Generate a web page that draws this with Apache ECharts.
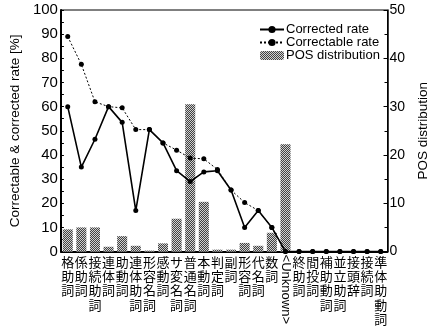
<!DOCTYPE html>
<html><head><meta charset="utf-8">
<script src="https://cdn.jsdelivr.net/npm/echarts@6/dist/echarts.min.js"></script>
<style>html,body{margin:0;padding:0;background:#fff}#c{width:438px;height:327px}</style>
</head><body><div id="c"></div>
<script>
const categories = ['格助詞','係助詞','接続助詞','連体詞','助動詞','連体助詞','形容名詞','感動詞','サ変名詞','普通名詞','本動詞','判定詞','副詞','形容詞','代名詞','数詞','<Unknown>','終助詞','間投詞','補助動詞','並立助詞','接頭辞','接続詞','準体助動詞'];
const correctedRate = [60,35,46.5,60,53.5,17,50.5,45,33.5,29,33,33.5,25.5,10,17,10,0,0,0,0,0,0,0,0];
const correctableRate = [89,77.5,62,60,59.5,50.5,50.5,45,42,38.7,38.4,34,25.5,20.3,17,10,0,0,0,0,0,0,0,0];
const posDistribution = [4.6,5,5,1,3.2,1.2,0.2,1.7,6.8,30.5,10.3,0.4,0.4,1.8,1.2,3.9,22.2,0,0,0,0,0,0,0];
const leftTicks = [0,10,20,30,40,50,60,70,80,90,100];
const rightTicks = [0,10,20,30,40,50];

const chart = echarts.init(document.getElementById('c'));
const latin = 'Liberation Sans';
const cjk = '"Noto Sans CJK JP"';
chart.setOption({
  animation:false,
  grid:{left:43,right:36,top:10,bottom:71,show:true,borderColor:'#000',borderWidth:1},
  legend:{
    orient:'vertical', left:259, top:23, itemGap:0, itemWidth:24, itemHeight:9, padding:0,
    textStyle:{fontFamily:latin,fontSize:13,color:'#000',padding:[0,0,0,-3]},
    data:[{name:'Corrected rate'},{name:'Correctable rate'},{name:'POS distribution'}]
  },
  xAxis:[{
    type:'category', data:categories, boundaryGap:true,
    axisLine:{lineStyle:{color:'#000',width:2}}, axisTick:{show:false},
    axisLabel:{interval:0, margin:3, color:'#000', fontFamily:cjk, fontSize:13, lineHeight:14.3,
      formatter:v=> v==='<Unknown>' ? '' : v.split('').join('\n')}
  },{
    type:'category', data:categories, position:'bottom',
    axisLine:{show:false}, axisTick:{show:false},
    axisLabel:{interval:0, margin:3, rotate:-90, color:'#000', fontFamily:latin, fontSize:13,
      formatter:v=> v==='<Unknown>' ? v : ''}
  }],
  yAxis:[{
    type:'value', min:0, max:100, interval:10,
    name:'Correctable & corrected rate [%]', nameLocation:'middle', nameGap:30, nameRotate:90,
    nameTextStyle:{fontFamily:latin,fontSize:13.5,color:'#000'},
    axisLine:{show:true,lineStyle:{color:'#000',width:2}},
    axisTick:{show:true,inside:true,length:3,lineStyle:{color:'#000'}},
    minorTick:{show:true,splitNumber:2,length:3,lineStyle:{color:'#000'}},
    splitLine:{show:false},
    axisLabel:{margin:3,color:'#000',fontFamily:latin,fontSize:15,
      formatter:v=> leftTicks.includes(v)? String(v):''}
  },{
    type:'value', min:0, max:50, interval:10, position:'right',
    name:'POS distribution', nameLocation:'middle', nameGap:24, nameRotate:90,
    nameTextStyle:{fontFamily:latin,fontSize:13.5,color:'#000'},
    axisLine:{show:true,lineStyle:{color:'#000',width:1.5}},
    axisTick:{show:true,inside:true,length:4,lineStyle:{color:'#000'}},
    minorTick:{show:true,splitNumber:2,length:3,lineStyle:{color:'#000'}},
    splitLine:{show:false},
    axisLabel:{margin:2,color:'#000',fontFamily:latin,fontSize:14,
      formatter:v=> rightTicks.includes(v)? String(v):''}
  }],
  series:[{
    name:'POS distribution', type:'bar', yAxisIndex:1, data:posDistribution, barWidth:10,
    itemStyle:{color:'#d0d0d0',
      decal:{symbol:'rect',symbolSize:1,color:'rgba(30,30,30,0.8)',dashArrayX:[[1,1],[0,1,1,0]],dashArrayY:[1,0],rotation:0}},
    z:1
  },{
    name:'Correctable rate', type:'line', data:correctableRate, symbol:'circle', symbolSize:5,
    lineStyle:{color:'#000',width:1,type:[2,2]}, itemStyle:{color:'#000'}, z:3
  },{
    name:'Corrected rate', type:'line', data:correctedRate, symbol:'circle', symbolSize:5,
    lineStyle:{color:'#000',width:1.6}, itemStyle:{color:'#000'}, z:4
  }]
});
</script></body></html>
